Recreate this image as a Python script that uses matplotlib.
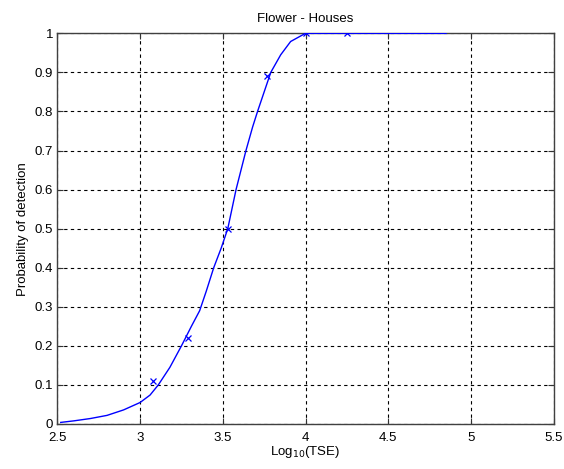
import matplotlib
matplotlib.use("Agg")
import matplotlib.pyplot as plt

# Data
curve_x = [2.52, 2.60, 2.70, 2.80, 2.90, 3.00, 3.06, 3.11, 3.18, 3.25, 3.31, 3.36, 3.40,
           3.445, 3.49, 3.53, 3.58, 3.64, 3.68, 3.71, 3.79, 3.85, 3.91, 4.00, 4.85]
curve_y = [0.004, 0.008, 0.014, 0.022, 0.036, 0.055, 0.074, 0.10, 0.145, 0.20, 0.25, 0.29, 0.34,
           0.40, 0.45, 0.50, 0.60, 0.70, 0.76, 0.80, 0.90, 0.945, 0.979, 1.0, 1.0]
obs_x = [3.08, 3.29, 3.53, 3.77, 4.00, 4.25]
obs_y = [0.11, 0.22, 0.50, 0.89, 1.00, 1.00]

x_ticks = [2.5, 3, 3.5, 4, 4.5, 5, 5.5]
x_tick_labels = ["2.5", "3", "3.5", "4", "4.5", "5", "5.5"]
y_ticks = [0, 0.1, 0.2, 0.3, 0.4, 0.5, 0.6, 0.7, 0.8, 0.9, 1]
y_tick_labels = ["0", "0.1", "0.2", "0.3", "0.4", "0.5", "0.6", "0.7", "0.8", "0.9", "1"]

plt.rcParams['font.family'] = ['Liberation Sans', 'DejaVu Sans']
fs = 9.5

fig = plt.figure(figsize=(5.64, 4.69), dpi=100)
ax = fig.add_axes([0.1018, 0.096, 0.8798, 0.833])

ax.plot(curve_x, curve_y, color='#0000ff', lw=1.0, zorder=3)
ax.plot(obs_x, obs_y, linestyle='none', marker='x', color='#0000ff', ms=5, mew=0.9, zorder=4)

ax.set_xlim(2.5, 5.5)
ax.set_ylim(0, 1)
ax.set_xticks(x_ticks)
ax.set_xticklabels(x_tick_labels, fontsize=fs)
ax.set_yticks(y_ticks)
ax.set_yticklabels(y_tick_labels, fontsize=fs)
ax.tick_params(direction='in', length=4, width=0.8, top=True, right=True,
               color='#333333')
ax.tick_params(axis='x', pad=6)
ax.tick_params(axis='y', pad=3)
ax.grid(True, color='black', linestyle=(0, (3, 3)), linewidth=0.8)
for s in ax.spines.values():
    s.set_color('#404040')
    s.set_linewidth(1.0)

ax.set_title("Flower - Houses", fontsize=fs, pad=8)
ax.set_xlabel(r"Log$_{10}$(TSE)", fontsize=fs, labelpad=0)
ax.set_ylabel("Probability of detection", fontsize=fs, labelpad=4)

fig.savefig("out.png", dpi=100, facecolor='white')
